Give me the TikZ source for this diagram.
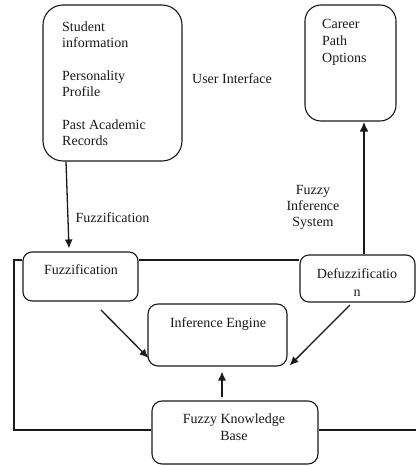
\documentclass[tikz,border=0pt]{standalone}
\usepackage{fontspec}
\setmainfont{Liberation Serif}
\usetikzlibrary{arrows.meta}
\begin{document}
\begin{tikzpicture}[x=1pt,y=-1pt,
  box/.style={draw=black!90, rounded corners=#1, line width=1.1pt, inner sep=0pt},
  box/.default=9pt,
  txt/.style={font=\fontsize{14}{16}\selectfont, inner sep=0pt, text=black!90},
  arr/.style={draw=black!90, line width=1.3pt, -{Latex[length=9pt,width=8pt]}},
  thickarr/.style={draw=black!90, line width=2.4pt, -{Latex[length=10pt,width=9pt]}},
  frame/.style={draw=black!90, line width=1.1pt}]
\useasboundingbox (0,0) rectangle (416,466);

% boxes
\node[box=20pt, minimum width=139pt, minimum height=156pt] (student) at (112.5,83) {};
\node[box=16pt, minimum width=91pt, minimum height=116pt] (career) at (350.5,63) {};
\node[box, minimum width=115pt, minimum height=49pt] (fuzz) at (80.5,276.5) {};
\node[box, minimum width=115pt, minimum height=47pt] (defuzz) at (357.5,278.5) {};
\node[box=10pt, minimum width=139pt, minimum height=62pt] (inf) at (217.5,335) {};
\node[box=10pt, minimum width=166pt, minimum height=63pt] (kb) at (235,432.5) {};

% texts
\node[txt, align=left, anchor=north west] (studentt) at (62,22)
  {Student\\information\\[17pt]Personality\\Profile\\[17pt]Past Academic\\Records};
\node[txt, font=\fontsize{14}{17}\selectfont, align=left, anchor=north west] (careert) at (322,19.5)
  {Career\\Path\\Options};
\node[txt, anchor=base] (ui) at (232,83.5) {User Interface};
\node[txt, anchor=base] (fuzzlab) at (112.5,222.5) {Fuzzification};
\node[txt, align=center, anchor=north] (fis) at (313,185) {Fuzzy\\Inference\\System};
\node[txt, anchor=base] (fuzzt) at (81,274.5) {Fuzzification};
\node[txt, font=\fontsize{14}{18}\selectfont, align=center, anchor=north] (defuzzt) at (357,268) {Defuzzificatio\\n};
\node[txt, anchor=base] (inft) at (218,327.5) {Inference Engine};
\node[txt, font=\fontsize{14}{17}\selectfont, align=center, anchor=north] (kbt) at (234,414) {Fuzzy Knowledge\\Base};

% frame
\coordinate (ftl) at (14,260);
\coordinate (fbl) at (14,430);
\coordinate (fbr) at (416,430);
\draw[frame] (fuzz.west |- ftl) -- (ftl) -- (fbl) -- (kb.west |- fbl);
\draw[frame] (fuzz.east |- ftl) -- (defuzz.west |- ftl);
\draw[frame] (kb.east |- fbl) -- (fbr);

% arrows
\draw[arr] ([xshift=-46.5pt]student.south) -- ([xshift=-11.5pt,yshift=3pt]fuzz.north);
\draw[thickarr] ([xshift=6.5pt]defuzz.north) -- ([xshift=13.5pt]career.south);
\coordinate (a1) at (101,310);
\coordinate (a2) at (350,305);
\draw[arr] (a1) -- ([xshift=1pt,yshift=-23pt]inf.west);
\draw[arr] (a2) -- ([xshift=2pt,yshift=1pt]inf.south east);
\draw[arr] ([xshift=-13pt,yshift=3pt]kb.north) -- ([xshift=4.5pt,yshift=-5pt]inf.south);
\end{tikzpicture}
\end{document}
